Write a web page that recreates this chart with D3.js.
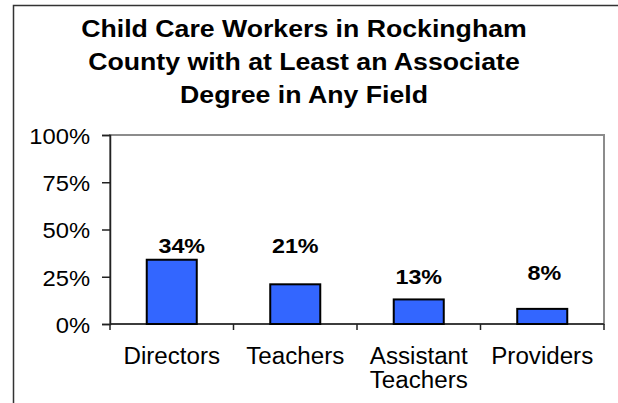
<!DOCTYPE html>
<html>
<head>
<meta charset="utf-8">
<script src="https://cdn.jsdelivr.net/npm/d3@7"></script>
<style>
  body { margin: 0; background: #fff; }
  text { font-family: "Liberation Sans", Arial, sans-serif; fill: #000; }
  .title { font-weight: bold; font-size: 23px; }
  .barLabel { font-weight: bold; font-size: 21px; }
  .catLabel { font-size: 23px; }
  .axis text { font-size: 22px; }
</style>
</head>
<body>
<div id="chart"></div>
<script>
// chart data
const titleLines = ["Child Care Workers in Rockingham", "County with at Least an Associate", "Degree in Any Field"];
const categories = ["Directors", "Teachers", "Assistant Teachers", "Providers"];
const values = [0.34, 0.21, 0.13, 0.08];
const yTicks = [0, 0.25, 0.5, 0.75, 1];

/**
 * Constructor for the degree bar chart
 */
function DegreeChart(){
    var self = this;
    self.init();
};

/**
 * Sets up the svg, the outer frame and the scales
 */
DegreeChart.prototype.init = function(){
    var self = this;
    self.width = 618;
    self.height = 403;
    self.plot = {left: 110, right: 604, top: 135, bottom: 324};

    self.svg = d3.select("#chart").append("svg")
        .attr("width", self.width)
        .attr("height", self.height);

    self.svg.append("rect")
        .attr("width", self.width)
        .attr("height", self.height)
        .attr("fill", "#fff");

    // outer chart frame, runs off the right and bottom edges
    self.svg.append("rect")
        .attr("x", 13.5)
        .attr("y", 5.5)
        .attr("width", 620)
        .attr("height", 420)
        .attr("fill", "none")
        .attr("stroke", "#333")
        .attr("stroke-width", 1.5);

    self.yScale = d3.scaleLinear()
        .domain([0, 1])
        .range([self.plot.bottom, self.plot.top]);

    self.xScale = d3.scaleBand()
        .domain(categories)
        .range([self.plot.left, self.plot.right])
        .padding(0);
};

/**
 * Places a text horizontally stretched around its anchor (the source chart was widened)
 */
DegreeChart.prototype.stretchText = function(parent, x, y, sx, str, cls){
    return parent.append("text")
        .attr("class", cls)
        .attr("text-anchor", "middle")
        .attr("transform", "translate(" + x + "," + y + ") scale(" + sx + ",1)")
        .text(str);
};

DegreeChart.prototype.update = function(){
    var self = this;
    var x = self.xScale, y = self.yScale, p = self.plot;

    //title, three centred lines
    titleLines.forEach(function(line, i){
        self.stretchText(self.svg, 304, 36.5 + i * 33, 1.16, line, "title");
    });

    //plot area border (gray top and right)
    self.svg.append("rect")
        .attr("x", p.left)
        .attr("y", p.top)
        .attr("width", p.right - p.left)
        .attr("height", p.bottom - p.top)
        .attr("fill", "none")
        .attr("stroke", "#8c8c8c")
        .attr("stroke-width", 2);

    //y axis
    var yAxis = self.svg.append("g")
        .attr("class", "axis")
        .attr("transform", "translate(" + p.left + ",0)")
        .call(d3.axisLeft(y)
            .tickValues(yTicks)
            .tickSize(8)
            .tickPadding(10.5)
            .tickFormat(d3.format(".0%")));
    yAxis.select(".domain").attr("stroke", "#222").attr("stroke-width", 1.5);
    yAxis.selectAll(".tick line").attr("stroke", "#222").attr("stroke-width", 1.5);
    yAxis.selectAll(".tick text")
        .attr("dy", "0.38em")
        .attr("transform", "scale(1.08,1)");

    //x axis line with ticks on band edges
    var edges = categories.map(function(d){ return x(d); }).concat([p.right]);
    self.svg.append("line")
        .attr("x1", p.left).attr("x2", p.right)
        .attr("y1", y(0)).attr("y2", y(0))
        .attr("stroke", "#222")
        .attr("stroke-width", 1.5);
    self.svg.selectAll(".xtick")
        .data(edges)
        .enter()
        .append("line")
        .attr("class", "xtick")
        .attr("x1", function(d){ return d; })
        .attr("x2", function(d){ return d; })
        .attr("y1", y(0))
        .attr("y2", y(0) + 6)
        .attr("stroke", "#222")
        .attr("stroke-width", 1.5);

    //bars
    var barW = x.bandwidth() * 0.405;
    self.svg.selectAll(".bar")
        .data(values)
        .enter()
        .append("rect")
        .attr("class", "bar")
        .attr("x", function(d, i){ return x(categories[i]) + (x.bandwidth() - barW) / 2; })
        .attr("y", function(d){ return y(d); })
        .attr("width", barW)
        .attr("height", function(d){ return y(0) - y(d); })
        .attr("fill", "#3366ff")
        .attr("stroke", "#000")
        .attr("stroke-width", 2);

    //value labels, nudged like in the source chart
    var nudge = [[10, -6.5], [0, -31], [0, -15.5], [2, -29]];
    values.forEach(function(d, i){
        var cx = x(categories[i]) + x.bandwidth() / 2;
        self.stretchText(self.svg, cx + nudge[i][0], y(d) + nudge[i][1], 1.11,
            d3.format(".0%")(d), "barLabel");
    });

    //category labels, wrapped on spaces
    categories.forEach(function(c){
        var cx = x(c) + x.bandwidth() / 2;
        c.split(" ").forEach(function(word, j){
            self.stretchText(self.svg, cx, 364 + j * 23.5, 1.05, word, "catLabel");
        });
    });
};

var chart = new DegreeChart();
chart.update();
</script>
</body>
</html>
